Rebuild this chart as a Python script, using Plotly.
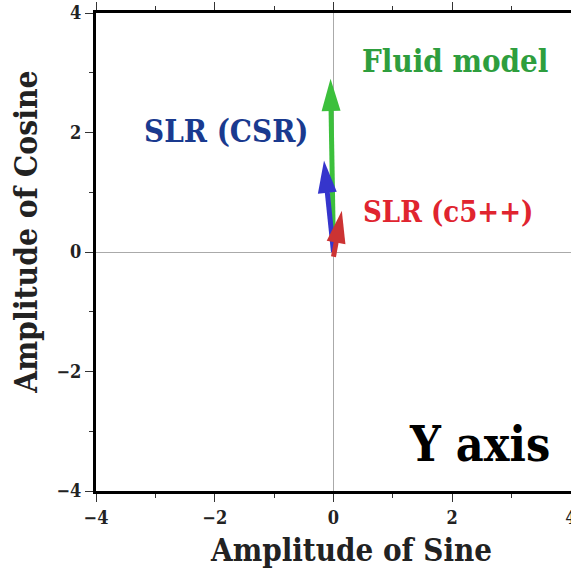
import plotly.graph_objects as go
import numpy as np

# data: arrow vectors (sine, cosine amplitudes)
series = ["Fluid model", "SLR (CSR)", "SLR (c5++)"]
tail_x = [0.0, 0.0, 0.0]
tail_y = [0.0, 0.0, -0.08]
tip_x = [-0.05, -0.16, 0.14]
tip_y = [2.9, 1.53, 0.69]
arrow_colors = ["#3cc03c", "#3535cc", "#cc3333"]
label_colors = ["#2e9e3e", "#1a3a8f", "#e0242f"]
label_x = [2.04, -1.8, 1.93]
label_y = [3.2, 2.03, 0.67]
label_sizes = [31, 31, 29]
tick_vals = [-4, -2, 0, 2, 4]
tick_text = ["\u22124", "\u22122", "0", "2", "4"]

FONT = "DejaVu Serif Condensed, DejaVu Serif"
fig = go.Figure()
fig.add_trace(go.Scatter(x=[None], y=[None], showlegend=False))

head_len = 0.54
head_half = 0.16
shapes = []
for x0, y0, x1, y1, c in zip(tail_x, tail_y, tip_x, tip_y, arrow_colors):
    dx, dy = x1 - x0, y1 - y0
    L = np.hypot(dx, dy)
    ux, uy = dx / L, dy / L
    px, py = -uy, ux
    bx, by = x1 - ux * head_len, y1 - uy * head_len
    shapes.append(dict(type="line", x0=x0, y0=y0, x1=bx + ux * 0.05, y1=by + uy * 0.05,
                       xref="x", yref="y", line=dict(color=c, width=5)))
    path = (f"M{x1},{y1} L{bx + px * head_half},{by + py * head_half} "
            f"L{bx - px * head_half},{by - py * head_half} Z")
    shapes.append(dict(type="path", path=path, xref="x", yref="y",
                       fillcolor=c, line=dict(color=c, width=0)))

annotations = []
for name, lx, ly, c, s in zip(series, label_x, label_y, label_colors, label_sizes):
    annotations.append(dict(x=lx, y=ly, xref="x", yref="y", text=f"<b>{name}</b>",
                            showarrow=False, font=dict(family=FONT, size=s, color=c)))
annotations.append(dict(x=2.46, y=-3.21, xref="x", yref="y", text="<b>Y axis</b>",
                        showarrow=False, font=dict(family=FONT, size=48, color="black")))
annotations.append(dict(x=0.30, y=-0.123, xref="x", yref="paper", text="<b>Amplitude of Sine</b>",
                        showarrow=False, yanchor="middle",
                        font=dict(family=FONT, size=31, color="#222")))
annotations.append(dict(x=-0.147, y=0.34, xref="paper", yref="y", text="<b>Amplitude of Cosine</b>",
                        showarrow=False, textangle=-90, xanchor="center",
                        font=dict(family=FONT, size=31.5, color="#222")))

axis_common = dict(range=[-4, 4], tickvals=tick_vals, ticktext=tick_text,
                   ticks="outside", ticklen=8, tickwidth=1, tickcolor="#333",
                   showgrid=False, zeroline=True, zerolinecolor="#aaaaaa", zerolinewidth=1,
                   showline=True, linecolor="black", linewidth=3,
                   ticklabeloverflow="allow", automargin=False,
                   minor=dict(dtick=1, ticks="outside", ticklen=4, tickcolor="#333", showgrid=False),
                   tickfont=dict(family=FONT, size=18, color="#222", weight="bold"))

fig.update_layout(
    width=571, height=569,
    margin=dict(l=96, r=0, t=13, b=78, autoexpand=False),
    plot_bgcolor="white", paper_bgcolor="white",
    showlegend=False,
    shapes=shapes, annotations=annotations,
    xaxis=dict(**axis_common, mirror="allticks"),
    yaxis=dict(**axis_common, mirror=False),
)
fig.write_html("out.html")
